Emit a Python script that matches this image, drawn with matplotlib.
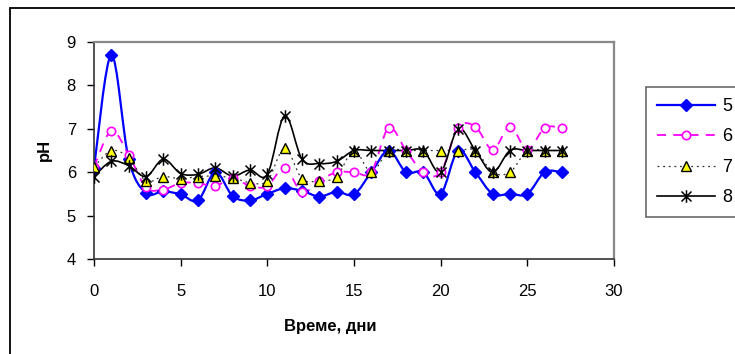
import matplotlib
matplotlib.use("Agg")
import matplotlib.pyplot as plt
import numpy as np
from matplotlib.path import Path
from matplotlib.patches import PathPatch
from matplotlib.lines import Line2D

plt.rcParams['font.family'] = ['Liberation Sans', 'DejaVu Sans']

days = list(range(28))
s5 = [6.1, 8.7, 6.3, 5.52, 5.56, 5.49, 5.35, 6.0, 5.45, 5.35, 5.5, 5.63,
      5.57, 5.44, 5.55, 5.49, 6.0, 6.5, 6.0, 6.0, 5.5, 6.5, 6.0, 5.5, 5.5, 5.5, 6.0, 6.0]
s6 = [6.12, 6.95, 6.4, 5.65, 5.6, 5.75, 5.75, 5.68, 5.87, 5.68, 5.68, 6.1,
      5.54, 5.8, 6.0, 6.0, 6.0, 7.02, 6.5, 6.0, 6.0, 7.02, 7.05, 6.52, 7.05, 6.52, 7.02, 7.02]
s7 = [6.12, 6.5, 6.33, 5.8, 5.9, 5.85, 5.9, 5.91, 5.87, 5.76, 5.8, 6.55,
      5.85, 5.8, 5.9, 6.5, 6.0, 6.5, 6.5, 6.5, 6.5, 6.5, 6.5, 6.0, 6.0, 6.5, 6.5, 6.5]
s8 = [5.9, 6.25, 6.15, 5.9, 6.3, 5.97, 5.95, 6.1, 5.91, 6.05, 5.95, 7.3,
      6.3, 6.2, 6.25, 6.5, 6.5, 6.5, 6.5, 6.5, 6.0, 7.0, 6.5, 6.0, 6.5, 6.5, 6.5, 6.5]
labels = ['5', '6', '7', '8']
xticks = [0, 5, 10, 15, 20, 25, 30]
yticks = [4, 5, 6, 7, 8, 9]

star = Path([(0, -1), (0, 1), (-0.8, -0.8), (0.8, 0.8), (-0.8, 0.8), (0.8, -0.8)],
            [Path.MOVETO, Path.LINETO, Path.MOVETO, Path.LINETO, Path.MOVETO, Path.LINETO])

styles = [
    dict(color='#0000ff', ls='-', lw=1.6, marker='D', ms=6, mfc='#0000ff', mec='#0000ff', mew=1),
    dict(color='#ff00ff', ls=(0, (5, 4)), lw=1.3, marker='o', ms=6, mfc='white', mec='#ff00ff', mew=1.2),
    dict(color='#333333', ls=(0, (1.5, 3)), lw=0.9, marker='^', ms=7.5, mfc='#ffff00', mec='black', mew=1),
    dict(color='black', ls='-', lw=1.2, marker=star, ms=9, mfc='black', mec='black', mew=1.1),
]


def smooth_path(x, y):
    x = np.asarray(x, float)
    y = np.asarray(y, float)
    n = len(x)
    verts = [(x[0], y[0])]
    codes = [Path.MOVETO]
    for i in range(n - 1):
        i0 = max(i - 1, 0)
        i3 = min(i + 2, n - 1)
        c1 = (x[i] + (x[i + 1] - x[i0]) / 6, y[i] + (y[i + 1] - y[i0]) / 6)
        c2 = (x[i + 1] - (x[i3] - x[i]) / 6, y[i + 1] - (y[i3] - y[i]) / 6)
        verts += [c1, c2, (x[i + 1], y[i + 1])]
        codes += [Path.CURVE4] * 3
    return Path(verts, codes)


fig = plt.figure(figsize=(7.35, 3.54), dpi=100)
fig.patches.append(plt.Rectangle((10 / 735, -0.1), 1.2, 1 - 8 / 354 + 0.1,
                                 transform=fig.transFigure, fill=False,
                                 edgecolor='black', lw=1.3))
ax = fig.add_axes([94 / 735, 1 - 259 / 354, (614 - 94) / 735, (259 - 42) / 354])

handles = []
for vals, st, lab in zip([s5, s6, s7, s8], styles, labels):
    patch = PathPatch(smooth_path(days, vals), fill=False, edgecolor=st['color'],
                      linestyle=st['ls'], lw=st['lw'], zorder=2)
    ax.add_patch(patch)
    ax.plot(days, vals, linestyle='none', marker=st['marker'], ms=st['ms'],
            mfc=st['mfc'], mec=st['mec'], mew=st['mew'], zorder=3)
    handles.append(Line2D([], [], color=st['color'], linestyle=st['ls'], lw=st['lw'],
                          marker=st['marker'], ms=st['ms'], mfc=st['mfc'],
                          mec=st['mec'], mew=st['mew'], label=lab))

ax.set_xlim(0, 30)
ax.set_ylim(4, 9)
ax.set_xticks(xticks)
ax.set_yticks(yticks)
ax.tick_params(axis='both', direction='out', length=5, width=1, labelsize=12, colors='black')
ax.tick_params(axis='x', pad=13)
ax.tick_params(axis='y', pad=8)
for side in ['left', 'bottom']:
    ax.spines[side].set_color('#333333')
    ax.spines[side].set_linewidth(1.2)
for side in ['top', 'right']:
    ax.spines[side].set_color('#888888')
    ax.spines[side].set_linewidth(1.6)

fig.text(330 / 735, 1 - 327 / 354, 'Време, дни', ha='center', va='center',
         fontsize=12, fontweight='bold')
fig.text(44 / 735, 1 - 150 / 354, 'pH', ha='center', va='center',
         fontsize=12, fontweight='bold', rotation=90)

leg = fig.legend(handles=handles, loc='upper left', bbox_to_anchor=(646 / 735, 1 - 87 / 354),
                 frameon=True, fancybox=False, edgecolor='#444444', fontsize=13,
                 handlelength=3.2, handletextpad=0.4, labelspacing=0.75,
                 borderpad=0.6, borderaxespad=0)
leg.get_frame().set_linewidth(1.2)

fig.savefig('out.png', dpi=100)
